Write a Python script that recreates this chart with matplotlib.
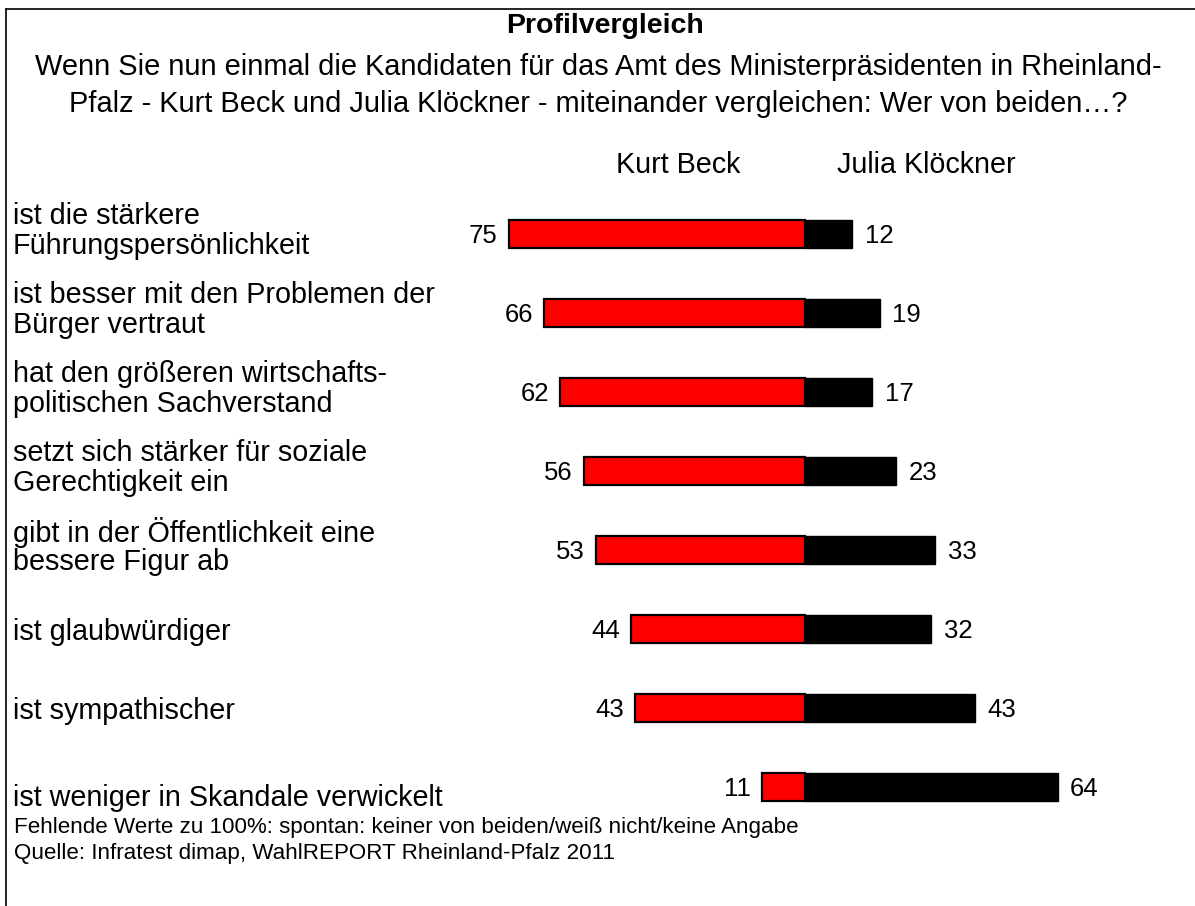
import matplotlib.pyplot as plt
from matplotlib.lines import Line2D

plt.rcParams['font.family'] = ['Liberation Sans', 'DejaVu Sans']

# Data
statements = [
    "ist die stärkere\nFührungspersönlichkeit",
    "ist besser mit den Problemen der\nBürger vertraut",
    "hat den größeren wirtschafts-\npolitischen Sachverstand",
    "setzt sich stärker für soziale\nGerechtigkeit ein",
    "gibt in der Öffentlichkeit eine\nbessere Figur ab",
    "ist glaubwürdiger",
    "ist sympathischer",
    "ist weniger in Skandale verwickelt",
]
beck = [75, 66, 62, 56, 53, 44, 43, 11]
kloeckner = [12, 19, 17, 23, 33, 32, 43, 64]
candidates = ["Kurt Beck", "Julia Klöckner"]

W, H = 1195, 906
fig = plt.figure(figsize=(W / 100, H / 100), dpi=100)

# axes: x from -90..90 -> px around centre 805 ; rows centred at 234 + 79*i
row0, step = 234, 79
x0, x1 = 805 - 90 * 3.947, 805 + 90 * 3.947
y_top, y_bot = row0 - step / 2, row0 + step * 7 + step / 2
ax = fig.add_axes([x0 / W, 1 - y_bot / H, (x1 - x0) / W, (y_bot - y_top) / H])
ax.set_xlim(-90, 90)
ax.set_ylim(len(statements) - 0.5, -0.5)
ax.axis("off")

ypos = list(range(len(statements)))
ax.barh(ypos, kloeckner, left=0, height=0.354, color="black", edgecolor="black", linewidth=1)
ax.barh(ypos, [-v for v in beck], left=0, height=0.354, color="#ff0000", edgecolor="black", linewidth=1.6)

for i, (b, k) in enumerate(zip(beck, kloeckner)):
    ax.annotate(str(b), (-b, i), xytext=(-8, -1.5), textcoords="offset points",
                ha="right", va="center", fontsize=18.5)
    ax.annotate(str(k), (k, i), xytext=(9, -1.5), textcoords="offset points",
                ha="left", va="center", fontsize=18.5)

# category labels (line centres relative to the bar centre, px)
for i, s in enumerate(statements):
    lines = s.split("\n")
    if len(lines) == 2:
        offs = [-18, 12]
    else:
        offs = [11] if i == len(statements) - 1 else [3]
    for line, o in zip(lines, offs):
        fig.text(13 / W, 1 - (row0 + step * i + o) / H, line,
                 ha="left", va="center", fontsize=20.7)

# column headers
fig.text(678 / W, 1 - 165 / H, candidates[0], ha="center", va="center", fontsize=20.7)
fig.text(926 / W, 1 - 165 / H, candidates[1], ha="center", va="center", fontsize=20.7)

# title block
fig.text(605 / W, 1 - 26 / H, "Profilvergleich", ha="center", va="center",
         fontsize=20.5, fontweight="bold")
fig.text(598 / W, 1 - 67 / H,
         "Wenn Sie nun einmal die Kandidaten für das Amt des Ministerpräsidenten in Rheinland-",
         ha="center", va="center", fontsize=20.9)
fig.text(598 / W, 1 - 104 / H,
         "Pfalz - Kurt Beck und Julia Klöckner - miteinander vergleichen: Wer von beiden…?",
         ha="center", va="center", fontsize=20.9)

# footnote
fig.text(14 / W, 1 - 828 / H,
         "Fehlende Werte zu 100%: spontan: keiner von beiden/weiß nicht/keine Angabe",
         ha="left", va="center", fontsize=16.1)
fig.text(14 / W, 1 - 854 / H,
         "Quelle: Infratest dimap, WahlREPORT Rheinland-Pfalz 2011",
         ha="left", va="center", fontsize=16.1)

# frame
fig.add_artist(Line2D([6 / W, 6 / W], [0, 1 - 9 / H], color="black", lw=1.2, transform=fig.transFigure))
fig.add_artist(Line2D([6 / W, 1], [1 - 9 / H, 1 - 9 / H], color="black", lw=1.2, transform=fig.transFigure))

fig.savefig("out.png", dpi=100, facecolor="white")
